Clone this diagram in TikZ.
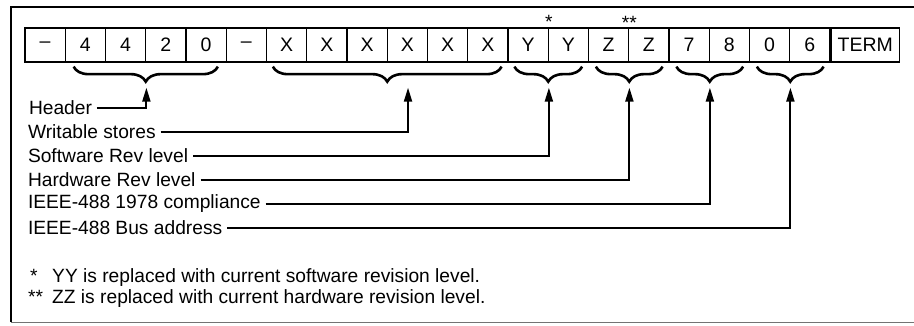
\documentclass[tikz,border=0pt]{standalone}
\usepackage{fontspec}
\setmainfont{Liberation Sans}
\usetikzlibrary{calc,decorations.pathreplacing,arrows.meta}
\tikzset{
  cell/.style={draw, line width=1.3pt, minimum width=40.25pt, minimum height=34pt, inner sep=0pt, font=\fontsize{19.5}{21}\selectfont},
  termcell/.style={cell, minimum width=68pt},
  brc/.style={decorate, decoration={brace, mirror, amplitude=15pt}, line width=2.6pt},
  lbl/.style={anchor=west, inner sep=0pt, outer xsep=5pt, font=\fontsize{19.2}{21}\selectfont},
  note/.style={anchor=base west, inner sep=0pt, font=\fontsize{19.2}{21}\selectfont},
  arr/.style={line width=2pt, -{Triangle[length=14pt,width=8pt]}},
}
\begin{document}
\begin{tikzpicture}[x=1pt,y=-1pt]
\useasboundingbox (0,0) rectangle (914,325);
% frame
\draw[line width=1.3pt] (914,7) -- (11,7) -- (11,322);
\draw[line width=1pt, black!55] (11,322) -- (914,322);
% cells
\foreach \t [count=\i from 0] in {–,4,4,2,0,–,X,X,X,X,X,X,Y,Y,Z,Z,7,8,0,6}
  \node[cell] (c\i) at ({25+40.25*\i+20.125},45) {\t};
\node[termcell, anchor=west] (term) at (c19.east) {TERM};
% stars
\node[note, anchor=center] (s1) at ($(c12.north east)+(0,-5)$) {*};
\node[note, anchor=center] (s2) at ($(c14.north east)+(0,-4)$) {**};
% braces
\draw[brc] ($(c1.south west)+(9,4)$) -- ($(c4.south east)+(-9,4)$);
\draw[brc] ($(c6.south west)+(7,4)$) -- ($(c11.south east)+(-7,4)$);
\draw[brc] ($(c12.south west)+(7,4)$) -- ($(c13.south east)+(-7,4)$);
\draw[brc] ($(c14.south west)+(8,4)$) -- ($(c15.south east)+(-7,4)$);
\draw[brc] ($(c16.south west)+(8,4)$) -- ($(c17.south east)+(-7,4)$);
\draw[brc] ($(c18.south west)+(8,4)$) -- ($(c19.south east)+(-7,4)$);
% brace tips
\coordinate (t1) at ($(c2.south east)+(0,25)$);
\coordinate (t2) at ($(c8.south east)!0.5!(c9.south east)+(0,25)$);
\coordinate (t3) at ($(c12.south east)+(0,25)$);
\coordinate (t4) at ($(c14.south east)+(0,25)$);
\coordinate (t5) at ($(c16.south east)+(0,25)$);
\coordinate (t6) at ($(c18.south east)+(0,25)$);
% labels
\node[lbl] (l1) at (24,108) {Header};
\node[lbl] (l2) at (23,132) {Writable stores};
\node[lbl] (l3) at (23,156) {Software Rev level};
\node[lbl] (l4) at (23,180) {Hardware Rev level};
\node[lbl] (l5) at (23,204) {IEEE-488 1978 compliance};
\node[lbl] (l6) at (23,228) {IEEE-488 Bus address};
\draw[arr] (l1.east) -| (t1);
\draw[arr] (l2.east) -| (t2);
\draw[arr] (l3.east) -| (t3);
\draw[arr] (l4.east) -| (t4);
\draw[arr] (l5.east) -| (t5);
\draw[arr] (l6.east) -| (t6);
% footnotes
\node[note] (f1) at (30,282) {*};
\node[note] (f1t) at (52,282) {YY is replaced with current software revision level.};
\node[note] (f2) at (28,303) {**};
\node[note] (f2t) at (52,303) {ZZ is replaced with current hardware revision level.};
\end{tikzpicture}
\end{document}
